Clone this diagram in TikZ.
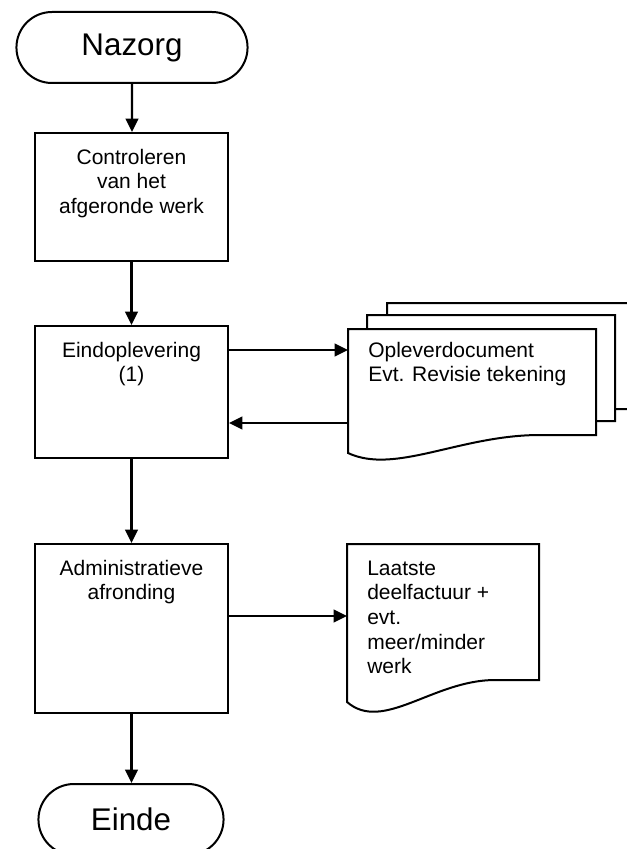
\documentclass[tikz,border=0pt]{standalone}
\usepackage{fontspec}
\setmainfont{Liberation Sans}
\usetikzlibrary{arrows.meta,shapes.misc}
\def\boxtext#1#2{\parbox[c][#1][t]{135pt}{\centering\rule{0pt}{23.25pt}#2}}
\def\doctext#1#2#3#4{\parbox[c][#1][t]{#2}{\raggedright\rule{0pt}{#3}#4}}
\tikzset{
	arr/.style={line width=1.6pt, -{Triangle[length=10pt,width=9.5pt]}},
	term/.style={draw, line width=1.5pt, rounded rectangle, minimum width=#1, minimum height=53.25pt, font=\fontsize{23.5}{28}\selectfont},
	proc/.style={draw, line width=1.5pt, fill=white, anchor=north, inner sep=0pt, minimum width=144.75pt, font=\fontsize{15.75}{18.5}\selectfont},
	docnode/.style={anchor=north west, inner sep=0pt, minimum width=#1, font=\fontsize{15.75}{18.5}\selectfont},
	sheet/.style={draw, line width=1.5pt, fill=white}
}

\begin{document}
\begin{tikzpicture}[x=0.75pt, y=-0.75pt]
			%%%%% START %%%%%
			\useasboundingbox (0, 0) rectangle (626, 849);
			
			\node[term=180pt] (nazorg) at (132, 47.5) {Nazorg};
			\node[proc] (contr) at (131.5, 132) {\boxtext{96pt}{Controleren\\van het\\afgeronde werk}};
			\node[proc] (eind) at (131.5, 325) {\boxtext{99pt}{Eindoplevering\\(1)}};
			\node[proc] (admin) at (131.5, 543) {\boxtext{126.75pt}{Administratieve\\afronding}};
			\node[term=145.5pt] (einde) at (131, 819.5) {Einde};
			
			% stack of documents
			\foreach \dx/\dy in {39/-26, 19/-14, 0/0}
				\draw[sheet, shift={(\dx, \dy)}] (348, 329) -- (596, 329) -- (596, 435) -- (540, 435) .. controls (460, 435) and (395, 475) .. (348, 453) -- cycle;
			\node[docnode=186pt] (opl) at (348, 329) {\doctext{79.5pt}{156pt}{21pt}{Opleverdocument\\Evt. Revisie tekening}};
			
			\draw[sheet] (347, 544) -- (539, 544) -- (539, 680) -- (495, 680) .. controls (433, 680) and (383, 733) .. (347, 702) -- cycle;
			\node[docnode=144pt] (laatste) at (347, 544) {\doctext{102pt}{114pt}{23.25pt}{Laatste\\deelfactuur +\\evt.\\meer/minder\\werk}};
			
			\coordinate (oplin) at ([yshift=-15.75pt]opl.north west);
			\coordinate (oplout) at ([yshift=-70.5pt]opl.north west);
			\coordinate (laatin) at ([yshift=-54pt]laatste.north west);
			
			\draw[arr] (nazorg) -- (nazorg.south |- contr.north);
			\draw[arr] (contr) -- (eind);
			\draw[arr] (eind.east |- oplin) -- (oplin);
			\draw[arr] (oplout) -- (eind.east |- oplout);
			\draw[arr] (eind) -- (admin);
			\draw[arr] (admin.east |- laatin) -- (laatin);
			\draw[arr] (admin) -- (admin.south |- einde.north);
			
			%%%%% END %%%%%
\end{tikzpicture}
\end{document}
